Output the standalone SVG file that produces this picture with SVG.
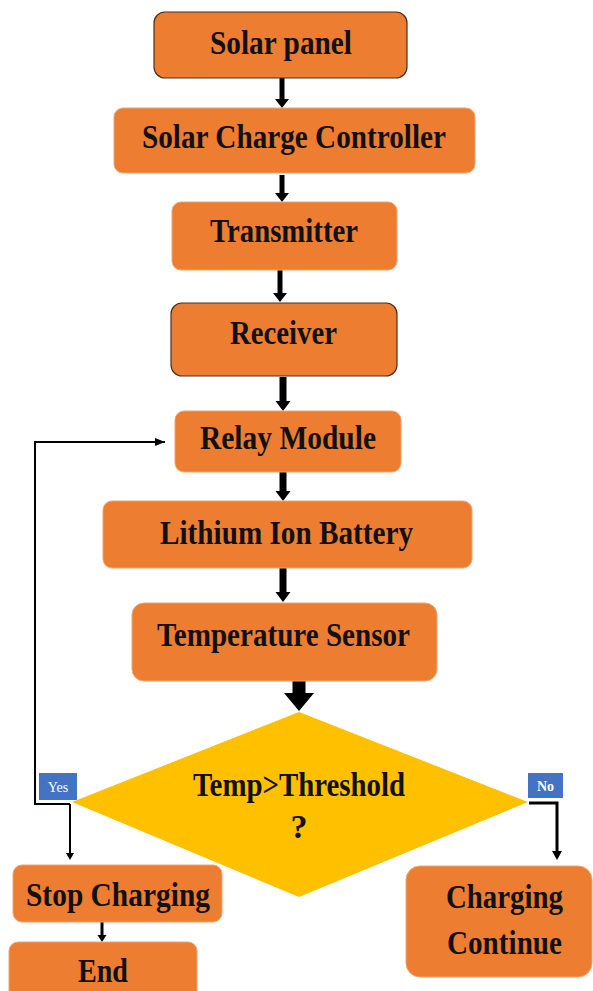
<svg xmlns="http://www.w3.org/2000/svg" width="593" height="991" viewBox="0 0 593 991">
<style>
.box{fill:#ED7D31;stroke:#F2A36E;stroke-width:1}
.dark{stroke:#4a3020;stroke-width:1.2}
.t{font-family:"Liberation Serif","Times New Roman",serif;font-weight:bold;font-size:34px;fill:#111;text-anchor:middle}
.lab{fill:#4472C4}
.lt{font-family:"Liberation Serif","Times New Roman",serif;font-size:14px;fill:#fff;text-anchor:middle}
.ar{fill:#000}
.ln{fill:none;stroke:#000}
</style>
<defs>
<marker id="mh" markerUnits="userSpaceOnUse" markerWidth="10" markerHeight="10" viewBox="0 0 10 10" refX="10" refY="5" orient="auto">
<path d="M0,1 L10,5 L0,9 Z" fill="#000"/>
</marker>
</defs>
<rect width="593" height="991" fill="#fff"/>
<g id="connectors">
<path class="ar" d="M279.5,78 V99 H275 L282,108 L289,99 H284.5 V78 Z"/>
<path class="ar" d="M279.5,175 V193 H275 L282,202 L289,193 H284.5 V175 Z"/>
<path class="ar" d="M277.5,270 V293 H273 L280,302 L287,293 H282.5 V270 Z"/>
<path class="ar" d="M279.5,377 V401 H275.5 L283,411 L290.5,401 H286.5 V377 Z"/>
<path class="ar" d="M279.5,472 V491 H275.5 L283,501 L290.5,491 H286.5 V472 Z"/>
<path class="ar" d="M279.5,568 V592 H275.5 L283,602 L290.5,592 H286.5 V568 Z"/>
<path class="ar" d="M292.5,681 V693 H284 L299,711 L314,693 H305.5 V681 Z"/>
<polyline class="ln" stroke-width="2" points="70,804 35,804 35,442 165,442" marker-end="url(#mh)"/>
<line class="ln" stroke-width="2" x1="70" y1="804" x2="70" y2="853"/>
<path class="ar" d="M66,853 L74,853 L70,860 Z"/>
<polyline class="ln" stroke-width="3" points="529,803 557,803 557,851"/>
<path class="ar" d="M552,851 L562,851 L557,860 Z"/>
<line class="ln" stroke-width="3" x1="102" y1="922" x2="102" y2="935"/>
<path class="ar" d="M97.5,935 L106.5,935 L102,942 Z"/>
</g>
<g id="solar-panel">
<rect class="box dark" x="154" y="12" width="253" height="66" rx="11"/>
<text class="t" x="281" y="54" font-size="38" textLength="142" lengthAdjust="spacingAndGlyphs">Solar panel</text>
</g>
<g id="solar-charge-controller">
<rect class="box" x="114" y="108" width="361" height="65" rx="9"/>
<text class="t" x="294" y="148" textLength="304" lengthAdjust="spacingAndGlyphs">Solar Charge Controller</text>
</g>
<g id="transmitter">
<rect class="box" x="172" y="202" width="225" height="68" rx="9"/>
<text class="t" x="284" y="242" textLength="148" lengthAdjust="spacingAndGlyphs">Transmitter</text>
</g>
<g id="receiver">
<rect class="box dark" x="171" y="303" width="226" height="73" rx="11"/>
<text class="t" x="283.5" y="344" textLength="107" lengthAdjust="spacingAndGlyphs">Receiver</text>
</g>
<g id="relay-module">
<rect class="box" x="175" y="411" width="226" height="61" rx="9"/>
<text class="t" x="288" y="449" textLength="176" lengthAdjust="spacingAndGlyphs">Relay Module</text>
</g>
<g id="lithium-ion-battery">
<rect class="box" x="103" y="501" width="369" height="67" rx="9"/>
<text class="t" x="286.5" y="544" textLength="253" lengthAdjust="spacingAndGlyphs">Lithium Ion Battery</text>
</g>
<g id="temperature-sensor">
<rect class="box" x="132" y="603" width="305" height="78" rx="12"/>
<text class="t" x="283.5" y="646" textLength="253" lengthAdjust="spacingAndGlyphs">Temperature Sensor</text>
</g>
<g id="decision">
<polygon points="299,712 528,802 299,897 72,802" fill="#FFC000"/>
<text class="t" x="299" y="796" textLength="212" lengthAdjust="spacingAndGlyphs">Temp&gt;Threshold</text>
<text class="t" x="299" y="838">?</text>
</g>
<g id="label-yes">
<rect class="lab" x="39" y="773" width="38" height="27"/>
<text class="lt" x="58" y="792">Yes</text>
</g>
<g id="label-no">
<rect class="lab" x="528" y="773" width="35" height="25"/>
<text class="lt" x="545.5" y="791" font-weight="bold">No</text>
</g>
<g id="stop-charging">
<rect class="box" x="13" y="865" width="209" height="57" rx="9"/>
<text class="t" x="118" y="906" textLength="184" lengthAdjust="spacingAndGlyphs">Stop Charging</text>
</g>
<g id="end">
<rect class="box" x="9" y="942" width="188" height="60" rx="9"/>
<text class="t" x="103" y="982" textLength="50" lengthAdjust="spacingAndGlyphs">End</text>
</g>
<g id="charging-continue">
<rect class="box" x="406" y="866" width="186" height="111" rx="14"/>
<text class="t" x="504.5" y="908" textLength="117" lengthAdjust="spacingAndGlyphs">Charging</text>
<text class="t" x="504.5" y="954" textLength="115" lengthAdjust="spacingAndGlyphs">Continue</text>
</g>
</svg>
